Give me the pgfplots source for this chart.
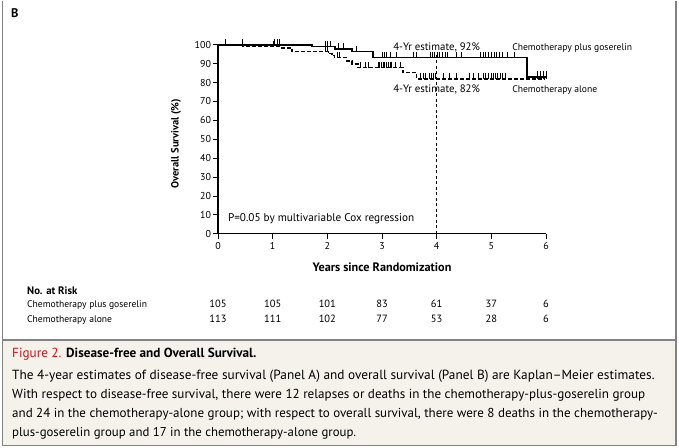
\documentclass[border=0pt]{standalone}
\usepackage{pgfplots}
\pgfplotsset{compat=1.18}
\usepackage{fontspec}
\setmainfont{PT Sans}
\definecolor{framegray}{RGB}{130,130,130}
\definecolor{capbg}{RGB}{245,242,236}
\definecolor{nejmred}{RGB}{196,22,28}
\newcommand{\fs}[1]{\fontsize{#1}{#1}\selectfont}
\begin{document}
\begin{tikzpicture}[x=1pt,y=1pt]
\fill[white] (0,0) rectangle (679,447);
\fill[capbg] (2.5,2.5) rectangle (676,108);
\draw[framegray, line width=1.6pt] (2.5,447) -- (2.5,2.5) -- (676,2.5) -- (676,447);
\draw[framegray, line width=1.6pt] (2.5,108) -- (676,108);
\node[anchor=base west, inner sep=0pt, font=\bfseries\fs{12.5}] at (11,430) {B};

\begin{axis}[at={(218pt,214pt)}, anchor=south west,
  scale only axis, width=328pt, height=189pt,
  xmin=0, xmax=6, ymin=0, ymax=100,
  axis lines*=left, axis line style={line width=1.1pt},
  tick align=outside, major tick length=5pt,
  tick style={line width=1pt, black},
  xtick={0,...,6}, ytick={0,10,...,100},
  ticklabel style={font=\fs{10}},
  /pgf/number format/assume math mode=true,
  yticklabel style={xshift=1.5pt},
  clip=false]
% goserelin (solid)
\addplot[const plot, line width=1.6pt, black] coordinates {
 (0,100) (1.72,99.0) (2.14,97.8) (2.45,96.5) (2.84,93.3) (5.65,83.0) (6.0,83.0)};
% alone (dashed)
\addplot[const plot, line width=1.6pt, black, dash pattern=on 4pt off 2pt] coordinates {
 (0,100) (0.46,99.1) (1.17,98.2) (1.35,96.4) (2.02,95.4) (2.08,94.4) (2.13,93.3)
 (2.35,91.3) (2.45,89.8) (2.56,88.0) (3.38,85.3) (3.63,82.0) (5.98,82.0)};
% censor marks goserelin
\addplot[only marks, mark=|, mark size=3pt, mark options={yshift=2.5pt, line width=1pt, black}] coordinates {
 (0.13,100) (0.45,100) (1.04,100) (1.08,100) (1.12,100)
 (1.96,99.0) (2.01,99.0) (2.05,99.0) (2.20,97.8) (2.29,97.8) (2.54,96.5)
 (3.00,93.3) (3.04,93.3) (3.09,93.3) (3.16,93.3) (3.27,93.3) (3.57,93.3) (3.64,93.3)
 (3.88,93.3) (3.92,93.3) (3.96,93.3) (4.02,93.3) (4.05,93.3) (4.10,93.3) (4.16,93.3) (4.20,93.3)
 (4.37,93.3) (4.46,93.3)
 (4.80,93.3) (4.85,93.3) (4.90,93.3) (4.95,93.3) (5.00,93.3) (5.05,93.3) (5.10,93.3) (5.15,93.3) (5.20,93.3)
 (5.30,93.3) (5.43,93.3)
 (5.85,83.0) (5.90,83.0) (5.95,83.0) (6.00,83.0)};
% censor marks alone
\addplot[only marks, mark=|, mark size=3pt, mark options={yshift=2.5pt, line width=1pt, black}] coordinates {
 (1.02,99.1) (1.96,96.4) (2.00,96.4) (2.18,93.3) (2.23,93.3)
 (2.60,88.0) (2.69,88.0) (2.76,88.0)
 (2.93,88.0) (2.96,88.0) (2.99,88.0) (3.02,88.0) (3.05,88.0) (3.08,88.0) (3.11,88.0) (3.15,88.0) (3.18,88.0)
 (3.24,88.0) (3.33,88.0)
 (3.70,82.0) (3.75,82.0) (3.80,82.0) (3.86,82.0) (3.90,82.0) (3.94,82.0) (3.98,82.0)
 (4.12,82.0) (4.24,82.0) (4.37,82.0) (4.60,82.0) (4.68,82.0) (4.76,82.0)
 (4.85,82.0) (4.90,82.0) (4.95,82.0) (5.00,82.0) (5.04,82.0) (5.08,82.0) (5.12,82.0) (5.16,82.0) (5.20,82.0) (5.25,82.0)
 (5.85,82.0) (5.90,82.0) (5.95,82.0) (6.00,82.0)};
% 4-year reference line
\addplot[black, line width=0.9pt, dash pattern=on 3pt off 2.5pt] coordinates {(4,0) (4,94.5)};
\node[anchor=base, font=\fs{10.8}] at (axis cs:4,96.8) {4-Yr estimate, 92\%};
\node[anchor=base west, inner sep=0pt, font=\fs{9.6}] at (axis cs:5.38,96.8) {Chemotherapy plus goserelin};
\node[anchor=base, font=\fs{10.8}] at (axis cs:4,74.6) {4-Yr estimate, 82\%};
\node[anchor=base west, inner sep=0pt, font=\fs{9.6}] at (axis cs:5.38,74.6) {Chemotherapy alone};
\node[anchor=base west, inner sep=0pt, font=\fs{11.2}] at (axis cs:0.18,6.3) {P=0.05 by multivariable Cox regression};
\end{axis}

\node[rotate=90, font=\bfseries\fs{10.5}] at (176,304) {Overall Survival (\%)};
\node[anchor=base, inner sep=0pt, font=\bfseries\fs{12.2}] at (382,176) {Years since Randomization};

\node[anchor=base west, inner sep=0pt, font=\bfseries\fs{10.8}] at (27,153) {No. at Risk};
\node[anchor=base west, inner sep=0pt, font=\fs{9.6}] at (27,140) {Chemotherapy plus goserelin};
\node[anchor=base west, inner sep=0pt, font=\fs{9.6}] at (27,125) {Chemotherapy alone};
\foreach \v [count=\i from 0] in {105,105,101,83,61,37,6}
  \node[anchor=base, inner sep=0pt, font=\fs{10.5}] at ({218+54.667*\i},140) {\v};
\foreach \v [count=\i from 0] in {113,111,102,77,53,28,6}
  \node[anchor=base, inner sep=0pt, font=\fs{10.5}] at ({218+54.667*\i},125) {\v};

\node[anchor=base west, inner sep=0pt, font=\fs{13.2}] at (12,90) {{\color{nejmred}Figure 2.} \textbf{Disease-free and Overall Survival.}};
\node[anchor=base west, inner sep=0pt, font=\fs{13.3}] at (12,68) {The 4-year estimates of disease-free survival (Panel A) and overall survival (Panel B) are Kaplan--Meier estimates.};
\node[anchor=base west, inner sep=0pt, font=\fs{13.1}] at (12,49) {With respect to disease-free survival, there were 12 relapses or deaths in the chemotherapy-plus-goserelin group};
\node[anchor=base west, inner sep=0pt, font=\fs{13.0}] at (12,30) {and 24 in the chemotherapy-alone group; with respect to overall survival, there were 8 deaths in the chemotherapy-};
\node[anchor=base west, inner sep=0pt, font=\fs{12.8}] at (12,11) {plus-goserelin group and 17 in the chemotherapy-alone group.};
\end{tikzpicture}
\end{document}
